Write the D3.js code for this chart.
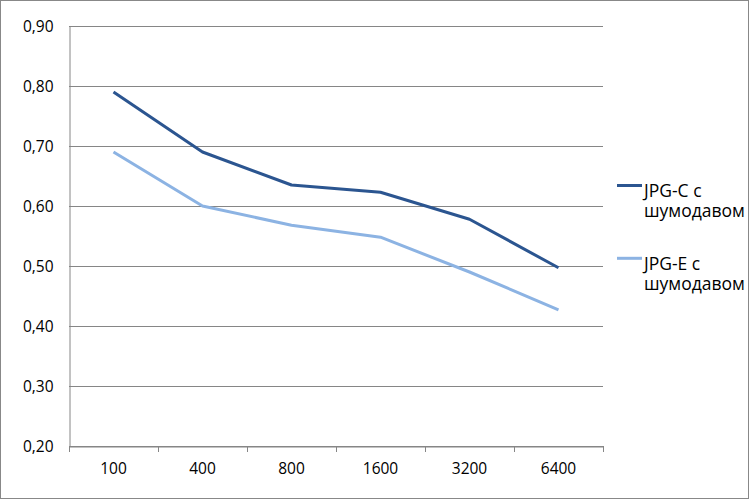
<!DOCTYPE html>
<html><head><meta charset="utf-8">
<script src="https://cdn.jsdelivr.net/npm/d3@7"></script>
<style>body{margin:0;background:#fff}svg{display:block}</style>
</head><body><svg id="c" width="750" height="500"></svg>
<script>
const categories = ["100","400","800","1600","3200","6400"];
const seriesNames = [["JPG-C с","шумодавом"],["JPG-E с","шумодавом"]];
const seriesC = [0.79, 0.69, 0.635, 0.623, 0.578, 0.497];
const seriesE = [0.69, 0.60, 0.568, 0.548, 0.49, 0.427];
const yTicks = [0.2,0.3,0.4,0.5,0.6,0.7,0.8,0.9];
const colors = ["#2b5590","#8cb3e3"];

const svg = d3.select("#c");
const font = "'Open Sans', Lato, sans-serif";
const fs = 15.5;
svg.append("rect").attr("x",0.5).attr("y",0.5).attr("width",748).attr("height",498)
  .attr("fill","#fff").attr("stroke","#888").attr("stroke-width",1);

const x0=69, x1=603, yTop=26, yBot=446;
const x = d3.scaleBand().domain(categories).range([x0,x1]);
const y = d3.scaleLinear().domain([0.2,0.9]).range([yBot,yTop]);

const grid = svg.append("g");
grid.selectAll("line").data(yTicks).join("line")
  .attr("x1",x0).attr("x2",x1)
  .attr("y1",d=>Math.round(y(d))+0.5).attr("y2",d=>Math.round(y(d))+0.5)
  .attr("stroke","#868686").attr("stroke-width",1);

const yAxis = d3.axisLeft(y).tickValues(yTicks).tickSize(0).tickPadding(16)
  .tickFormat(d=>d3.format(".2f")(d).replace(".",","));
const gy = svg.append("g").attr("transform",`translate(${x0+0.5},0.5)`).call(yAxis);
gy.select(".domain").attr("stroke","#868686");
gy.selectAll("text").attr("font-family",font).attr("font-size",fs).attr("fill","#000");

const xAxis = d3.axisBottom(x).tickSize(0).tickPadding(16);
const gx = svg.append("g").attr("transform",`translate(0,${yBot+0.5})`).call(xAxis);
gx.select(".domain").attr("stroke","#868686");
gx.selectAll("text").attr("font-family",font).attr("font-size",fs).attr("fill","#000");
const bounds = categories.map(c=>x(c)).concat([x1]);
svg.append("g").selectAll("line").data(bounds).join("line")
  .attr("x1",d=>Math.round(d)+0.5).attr("x2",d=>Math.round(d)+0.5)
  .attr("y1",yBot).attr("y2",yBot+6).attr("stroke","#868686");

const line = d3.line().x((d,i)=>x(categories[i])+x.bandwidth()/2).y(d=>y(d));
[seriesC, seriesE].forEach((s,i)=>{
  svg.append("path").datum(s).attr("d",line).attr("fill","none")
    .attr("stroke",colors[i]).attr("stroke-width",3).attr("stroke-linejoin","round");
});

const legY = [185.5, 258.3];
seriesNames.forEach((nm,i)=>{
  const ly = legY[i];
  svg.append("line").attr("x1",617).attr("x2",642).attr("y1",ly).attr("y2",ly)
    .attr("stroke",colors[i]).attr("stroke-width",3);
  const t = svg.append("text").attr("x",644).attr("y",ly+11.5)
    .attr("font-family",font).attr("font-size",17.5).attr("fill","#000");
  nm.forEach((s,j)=>t.append("tspan").attr("x",644).attr("dy",j?20:0).text(s));
});
</script></body></html>
